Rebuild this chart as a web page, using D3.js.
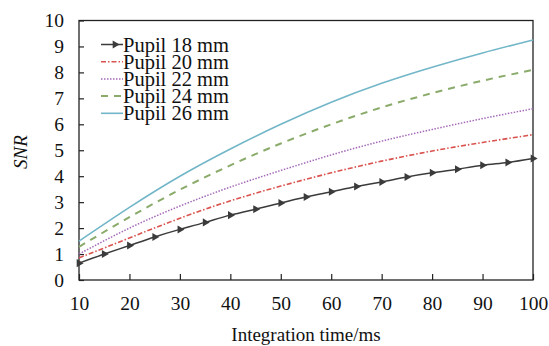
<!DOCTYPE html>
<html>
<head>
<meta charset="utf-8">
<script src="https://cdn.jsdelivr.net/npm/d3@7/dist/d3.min.js"></script>
<style>
  html, body { margin: 0; padding: 0; background: #fff; }
  svg { display: block; }
  svg text { font-family: "Liberation Serif", "Times New Roman", serif; fill: #111; }
</style>
</head>
<body>
<svg id="chart" width="549" height="346"></svg>
<script>
// Integration time (ms) sample points
const times10 = [10, 20, 30, 40, 50, 60, 70, 80, 90, 100];
const times5 = [10, 15, 20, 25, 30, 35, 40, 45, 50, 55, 60, 65, 70, 75, 80, 85, 90, 95, 100];

// SNR for each pupil diameter
const snr18 = [0.65, 1.0, 1.33, 1.66, 1.95, 2.22, 2.5, 2.73, 2.97, 3.2, 3.4, 3.6, 3.78, 3.97, 4.13, 4.27, 4.42, 4.53, 4.68];
const snr20 = [0.85, 1.62, 2.38, 3.05, 3.62, 4.13, 4.58, 4.97, 5.3, 5.6];
const snr22 = [1.0, 2.0, 2.85, 3.58, 4.22, 4.82, 5.35, 5.8, 6.22, 6.6];
const snr24 = [1.28, 2.42, 3.48, 4.42, 5.26, 6.0, 6.65, 7.2, 7.68, 8.1];
const snr26 = [1.5, 2.8, 4.0, 5.05, 6.0, 6.85, 7.58, 8.2, 8.75, 9.25];

const legendLabels = ["Pupil 18 mm", "Pupil 20 mm", "Pupil 22 mm", "Pupil 24 mm", "Pupil 26 mm"];
const xTicks = [10, 20, 30, 40, 50, 60, 70, 80, 90, 100];
const yTicks = [0, 1, 2, 3, 4, 5, 6, 7, 8, 9, 10];

const series = [
  { label: legendLabels[0], x: times5, y: snr18, color: "#3b3b3b", width: 1.5, dash: null, markers: true },
  { label: legendLabels[1], x: times10, y: snr20, color: "#d9534f", width: 1.6, dash: "5,2,1.5,2" },
  { label: legendLabels[2], x: times10, y: snr22, color: "#a469b8", width: 1.5, dash: "1.5,1.5" },
  { label: legendLabels[3], x: times10, y: snr24, color: "#8aab6a", width: 2, dash: "7,6" },
  { label: legendLabels[4], x: times10, y: snr26, color: "#72b6c8", width: 1.6, dash: null }
];

const svg = d3.select("#chart");
const plotLeft = 79, plotRight = 533, plotTop = 20.5, plotBottom = 280;

const x = d3.scaleLinear().domain([10, 100]).range([plotLeft, plotRight]);
const y = d3.scaleLinear().domain([0, 10]).range([plotBottom, plotTop]);

// frame
svg.append("rect")
  .attr("x", plotLeft).attr("y", plotTop)
  .attr("width", plotRight - plotLeft).attr("height", plotBottom - plotTop)
  .attr("fill", "none").attr("stroke", "#222").attr("stroke-width", 1.3);

// x axis: ticks point inward
const xAxis = svg.append("g").attr("transform", `translate(0,${plotBottom})`)
  .call(d3.axisBottom(x).tickValues(xTicks).tickSizeInner(-6).tickSizeOuter(0).tickPadding(16));
xAxis.select(".domain").remove();
xAxis.selectAll(".tick line").attr("stroke", "#222").attr("stroke-width", 1.2);
xAxis.selectAll(".tick text").attr("font-size", 19.5).attr("font-family", null);

// y axis: ticks point inward
const yAxis = svg.append("g").attr("transform", `translate(${plotLeft},0)`)
  .call(d3.axisLeft(y).tickValues(yTicks).tickSizeInner(-5).tickSizeOuter(0).tickPadding(15));
yAxis.select(".domain").remove();
yAxis.selectAll(".tick line").attr("stroke", "#222").attr("stroke-width", 1.2);
yAxis.selectAll(".tick text").attr("font-size", 19.5).attr("font-family", null);

// axis titles
svg.append("text")
  .attr("x", (plotLeft + plotRight) / 2).attr("y", 341)
  .attr("text-anchor", "middle").attr("font-size", 19)
  .text("Integration time/ms");
svg.append("text")
  .attr("transform", `translate(27,152) rotate(-90)`)
  .attr("text-anchor", "middle").attr("font-size", 19).attr("font-style", "italic")
  .text("SNR");

// curves
const line = d3.line().curve(d3.curveNatural);
const marker = d3.symbol().type(d3.symbolTriangle).size(28);

series.slice().reverse().forEach(s => {
  const pts = s.x.map((t, i) => [x(t), y(s.y[i])]);
  svg.append("path")
    .attr("d", line(pts))
    .attr("fill", "none")
    .attr("stroke", s.color)
    .attr("stroke-width", s.width)
    .attr("stroke-dasharray", s.dash);
  if (s.markers) {
    svg.append("g").selectAll("path").data(pts).join("path")
      .attr("d", marker)
      .attr("transform", d => `translate(${d[0]},${d[1]}) rotate(90)`)
      .attr("fill", s.color);
  }
});

// legend
const legend = svg.append("g");
series.forEach((s, i) => {
  const cy = 44.5 + i * 17.2;
  legend.append("line")
    .attr("x1", 101).attr("x2", 123).attr("y1", cy).attr("y2", cy)
    .attr("stroke", s.color).attr("stroke-width", s.width)
    .attr("stroke-dasharray", s.dash);
  if (s.markers) {
    legend.append("path").attr("d", marker)
      .attr("transform", `translate(115,${cy}) rotate(90)`)
      .attr("fill", s.color);
  }
  legend.append("text")
    .attr("x", 123).attr("y", cy + 7)
    .attr("font-size", 20.5)
    .text(s.label);
});
</script>
</body>
</html>
